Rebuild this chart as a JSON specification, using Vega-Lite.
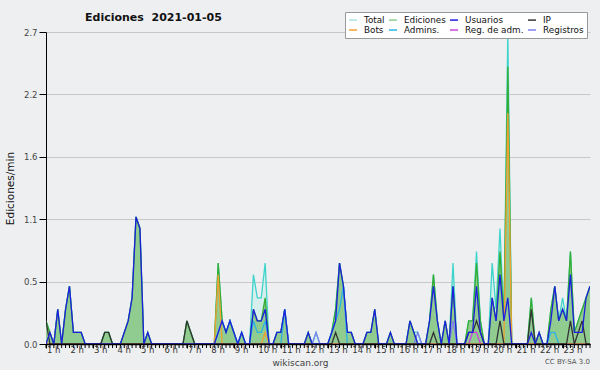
{
"$schema": "https://vega.github.io/schema/vega-lite/v6.json",
"width": 544, "height": 312,
"autosize": "none",
"padding": {"left": 46, "top": 32, "right": 10, "bottom": 26},
"background": "#eeeff1",
"config": {"view": {"stroke": null}, "font": "DejaVu Sans"},
"title": {"text": "Ediciones\u00a0\u00a02021-01-05", "anchor": "start", "frame": "group", "dx": 39, "font": "DejaVu Sans", "fontSize": 11, "fontWeight": "bold", "color": "#111111", "offset": -11},
"datasets": {"hours": [
{"i":0,"h":"1 h"},{"i":6,"h":"2 h"},{"i":12,"h":"3 h"},{"i":18,"h":"4 h"},{"i":24,"h":"5 h"},{"i":30,"h":"6 h"},
{"i":36,"h":"7 h"},{"i":42,"h":"8 h"},{"i":48,"h":"9 h"},{"i":54,"h":"10 h"},{"i":60,"h":"11 h"},{"i":66,"h":"12 h"},
{"i":72,"h":"13 h"},{"i":78,"h":"14 h"},{"i":84,"h":"15 h"},{"i":90,"h":"16 h"},{"i":96,"h":"17 h"},{"i":102,"h":"18 h"},
{"i":108,"h":"19 h"},{"i":114,"h":"20 h"},{"i":120,"h":"21 h"},{"i":126,"h":"22 h"},{"i":132,"h":"23 h"}
]},
"data": {"values": [
{"i":0,"T":0.2,"E":0.2,"U":0,"IP":0.2,"B":0,"A":0,"RA":0,"R":0},
{"i":1,"T":0.1,"E":0.1,"U":0.1,"IP":0,"B":0,"A":0,"RA":0,"R":0},
{"i":2,"T":0,"E":0,"U":0,"IP":0,"B":0,"A":0,"RA":0,"R":0},
{"i":3,"T":0.3,"E":0.3,"U":0.3,"IP":0,"B":0,"A":0,"RA":0,"R":0},
{"i":4,"T":0,"E":0,"U":0,"IP":0,"B":0,"A":0,"RA":0,"R":0},
{"i":5,"T":0.3,"E":0.3,"U":0.3,"IP":0,"B":0,"A":0,"RA":0,"R":0},
{"i":6,"T":0.5,"E":0.5,"U":0.5,"IP":0,"B":0,"A":0,"RA":0,"R":0},
{"i":7,"T":0.1,"E":0.1,"U":0.1,"IP":0,"B":0,"A":0,"RA":0,"R":0},
{"i":8,"T":0.1,"E":0.1,"U":0.1,"IP":0,"B":0,"A":0,"RA":0,"R":0},
{"i":9,"T":0.1,"E":0.1,"U":0.1,"IP":0,"B":0,"A":0,"RA":0,"R":0},
{"i":10,"T":0,"E":0,"U":0,"IP":0,"B":0,"A":0,"RA":0,"R":0},
{"i":11,"T":0,"E":0,"U":0,"IP":0,"B":0,"A":0,"RA":0,"R":0},
{"i":12,"T":0,"E":0,"U":0,"IP":0,"B":0,"A":0,"RA":0,"R":0},
{"i":13,"T":0,"E":0,"U":0,"IP":0,"B":0,"A":0,"RA":0,"R":0},
{"i":14,"T":0,"E":0,"U":0,"IP":0,"B":0,"A":0,"RA":0,"R":0},
{"i":15,"T":0.1,"E":0.1,"U":0,"IP":0.1,"B":0,"A":0,"RA":0,"R":0},
{"i":16,"T":0.1,"E":0.1,"U":0,"IP":0.1,"B":0,"A":0,"RA":0,"R":0},
{"i":17,"T":0,"E":0,"U":0,"IP":0,"B":0,"A":0,"RA":0,"R":0},
{"i":18,"T":0,"E":0,"U":0,"IP":0,"B":0,"A":0,"RA":0,"R":0},
{"i":19,"T":0,"E":0,"U":0,"IP":0,"B":0,"A":0,"RA":0,"R":0},
{"i":20,"T":0.1,"E":0.1,"U":0.1,"IP":0,"B":0,"A":0,"RA":0,"R":0},
{"i":21,"T":0.2,"E":0.2,"U":0.2,"IP":0,"B":0,"A":0,"RA":0,"R":0},
{"i":22,"T":0.4,"E":0.4,"U":0.4,"IP":0,"B":0,"A":0,"RA":0,"R":0},
{"i":23,"T":1.1,"E":1.1,"U":1.1,"IP":0,"B":0,"A":0,"RA":0,"R":0},
{"i":24,"T":1.0,"E":1.0,"U":1.0,"IP":0,"B":0,"A":0,"RA":0,"R":0},
{"i":25,"T":0,"E":0,"U":0,"IP":0,"B":0,"A":0,"RA":0,"R":0},
{"i":26,"T":0.1,"E":0.1,"U":0.1,"IP":0,"B":0,"A":0,"RA":0,"R":0},
{"i":27,"T":0,"E":0,"U":0,"IP":0,"B":0,"A":0,"RA":0,"R":0},
{"i":28,"T":0,"E":0,"U":0,"IP":0,"B":0,"A":0,"RA":0,"R":0},
{"i":29,"T":0,"E":0,"U":0,"IP":0,"B":0,"A":0,"RA":0,"R":0},
{"i":30,"T":0,"E":0,"U":0,"IP":0,"B":0,"A":0,"RA":0,"R":0},
{"i":31,"T":0,"E":0,"U":0,"IP":0,"B":0,"A":0,"RA":0,"R":0},
{"i":32,"T":0,"E":0,"U":0,"IP":0,"B":0,"A":0,"RA":0,"R":0},
{"i":33,"T":0,"E":0,"U":0,"IP":0,"B":0,"A":0,"RA":0,"R":0},
{"i":34,"T":0,"E":0,"U":0,"IP":0,"B":0,"A":0,"RA":0,"R":0},
{"i":35,"T":0,"E":0,"U":0,"IP":0,"B":0,"A":0,"RA":0,"R":0},
{"i":36,"T":0.2,"E":0.2,"U":0,"IP":0.2,"B":0,"A":0,"RA":0,"R":0},
{"i":37,"T":0.1,"E":0.1,"U":0,"IP":0.1,"B":0,"A":0,"RA":0,"R":0},
{"i":38,"T":0,"E":0,"U":0,"IP":0,"B":0,"A":0,"RA":0,"R":0},
{"i":39,"T":0,"E":0,"U":0,"IP":0,"B":0,"A":0,"RA":0,"R":0},
{"i":40,"T":0,"E":0,"U":0,"IP":0,"B":0,"A":0,"RA":0,"R":0},
{"i":41,"T":0,"E":0,"U":0,"IP":0,"B":0,"A":0,"RA":0,"R":0},
{"i":42,"T":0,"E":0,"U":0,"IP":0,"B":0,"A":0,"RA":0,"R":0},
{"i":43,"T":0,"E":0,"U":0,"IP":0,"B":0,"A":0,"RA":0,"R":0},
{"i":44,"T":0.7,"E":0.7,"U":0.1,"IP":0,"B":0.6,"A":0.1,"RA":0,"R":0},
{"i":45,"T":0.2,"E":0.2,"U":0.2,"IP":0,"B":0,"A":0.2,"RA":0,"R":0},
{"i":46,"T":0.1,"E":0.1,"U":0.1,"IP":0,"B":0,"A":0.1,"RA":0,"R":0},
{"i":47,"T":0.2,"E":0.2,"U":0.2,"IP":0,"B":0,"A":0.2,"RA":0,"R":0},
{"i":48,"T":0.1,"E":0.1,"U":0.1,"IP":0,"B":0,"A":0.1,"RA":0,"R":0},
{"i":49,"T":0,"E":0,"U":0,"IP":0,"B":0,"A":0,"RA":0,"R":0},
{"i":50,"T":0.1,"E":0.1,"U":0.1,"IP":0,"B":0,"A":0.1,"RA":0,"R":0},
{"i":51,"T":0,"E":0,"U":0,"IP":0,"B":0,"A":0,"RA":0,"R":0},
{"i":52,"T":0,"E":0,"U":0,"IP":0,"B":0,"A":0,"RA":0,"R":0},
{"i":53,"T":0.6,"E":0.3,"U":0.3,"IP":0,"B":0,"A":0.2,"RA":0,"R":0},
{"i":54,"T":0.4,"E":0.2,"U":0.2,"IP":0,"B":0,"A":0.1,"RA":0,"R":0},
{"i":55,"T":0.4,"E":0.2,"U":0.2,"IP":0,"B":0,"A":0.1,"RA":0,"R":0},
{"i":56,"T":0.7,"E":0.4,"U":0.3,"IP":0,"B":0.1,"A":0.2,"RA":0,"R":0},
{"i":57,"T":0,"E":0,"U":0,"IP":0,"B":0,"A":0,"RA":0,"R":0},
{"i":58,"T":0,"E":0,"U":0,"IP":0,"B":0,"A":0,"RA":0,"R":0},
{"i":59,"T":0.1,"E":0.1,"U":0.1,"IP":0,"B":0,"A":0,"RA":0,"R":0},
{"i":60,"T":0.1,"E":0.1,"U":0.1,"IP":0,"B":0,"A":0,"RA":0,"R":0},
{"i":61,"T":0.3,"E":0.3,"U":0.3,"IP":0,"B":0,"A":0.3,"RA":0,"R":0},
{"i":62,"T":0,"E":0,"U":0,"IP":0,"B":0,"A":0,"RA":0,"R":0},
{"i":63,"T":0,"E":0,"U":0,"IP":0,"B":0,"A":0,"RA":0,"R":0},
{"i":64,"T":0,"E":0,"U":0,"IP":0,"B":0,"A":0,"RA":0,"R":0},
{"i":65,"T":0,"E":0,"U":0,"IP":0,"B":0,"A":0,"RA":0,"R":0},
{"i":66,"T":0,"E":0,"U":0,"IP":0,"B":0,"A":0,"RA":0,"R":0},
{"i":67,"T":0.1,"E":0.1,"U":0.1,"IP":0,"B":0,"A":0,"RA":0,"R":0},
{"i":68,"T":0,"E":0,"U":0,"IP":0,"B":0,"A":0,"RA":0,"R":0},
{"i":69,"T":0.1,"E":0,"U":0,"IP":0,"B":0,"A":0,"RA":0,"R":0.1},
{"i":70,"T":0,"E":0,"U":0,"IP":0,"B":0,"A":0,"RA":0,"R":0},
{"i":71,"T":0,"E":0,"U":0,"IP":0,"B":0,"A":0,"RA":0,"R":0},
{"i":72,"T":0,"E":0,"U":0,"IP":0,"B":0,"A":0,"RA":0,"R":0},
{"i":73,"T":0.1,"E":0.1,"U":0.1,"IP":0,"B":0,"A":0.1,"RA":0,"R":0},
{"i":74,"T":0.3,"E":0.3,"U":0.2,"IP":0.1,"B":0,"A":0.2,"RA":0,"R":0},
{"i":75,"T":0.7,"E":0.7,"U":0.7,"IP":0,"B":0,"A":0.3,"RA":0,"R":0},
{"i":76,"T":0.5,"E":0.5,"U":0.5,"IP":0,"B":0,"A":0.5,"RA":0,"R":0},
{"i":77,"T":0.1,"E":0.1,"U":0.1,"IP":0,"B":0,"A":0,"RA":0,"R":0},
{"i":78,"T":0.1,"E":0.1,"U":0.1,"IP":0,"B":0,"A":0,"RA":0,"R":0},
{"i":79,"T":0,"E":0,"U":0,"IP":0,"B":0,"A":0,"RA":0,"R":0},
{"i":80,"T":0,"E":0,"U":0,"IP":0,"B":0,"A":0,"RA":0,"R":0},
{"i":81,"T":0,"E":0,"U":0,"IP":0,"B":0,"A":0,"RA":0,"R":0},
{"i":82,"T":0.1,"E":0.1,"U":0.1,"IP":0,"B":0,"A":0,"RA":0,"R":0},
{"i":83,"T":0.1,"E":0.1,"U":0.1,"IP":0,"B":0,"A":0,"RA":0,"R":0},
{"i":84,"T":0.3,"E":0.3,"U":0.3,"IP":0,"B":0,"A":0,"RA":0,"R":0},
{"i":85,"T":0,"E":0,"U":0,"IP":0,"B":0,"A":0,"RA":0,"R":0},
{"i":86,"T":0,"E":0,"U":0,"IP":0,"B":0,"A":0,"RA":0,"R":0},
{"i":87,"T":0,"E":0,"U":0,"IP":0,"B":0,"A":0,"RA":0,"R":0},
{"i":88,"T":0.1,"E":0.1,"U":0.1,"IP":0,"B":0,"A":0,"RA":0,"R":0},
{"i":89,"T":0,"E":0,"U":0,"IP":0,"B":0,"A":0,"RA":0,"R":0},
{"i":90,"T":0,"E":0,"U":0,"IP":0,"B":0,"A":0,"RA":0,"R":0},
{"i":91,"T":0,"E":0,"U":0,"IP":0,"B":0,"A":0,"RA":0,"R":0},
{"i":92,"T":0,"E":0,"U":0,"IP":0,"B":0,"A":0,"RA":0,"R":0},
{"i":93,"T":0.2,"E":0.2,"U":0.2,"IP":0,"B":0,"A":0,"RA":0,"R":0},
{"i":94,"T":0.1,"E":0.1,"U":0.1,"IP":0,"B":0,"A":0,"RA":0,"R":0},
{"i":95,"T":0.1,"E":0,"U":0,"IP":0,"B":0,"A":0,"RA":0,"R":0.1},
{"i":96,"T":0,"E":0,"U":0,"IP":0,"B":0,"A":0,"RA":0,"R":0},
{"i":97,"T":0,"E":0,"U":0,"IP":0,"B":0,"A":0,"RA":0,"R":0},
{"i":98,"T":0.2,"E":0.2,"U":0.2,"IP":0,"B":0,"A":0,"RA":0,"R":0},
{"i":99,"T":0.6,"E":0.6,"U":0.5,"IP":0.1,"B":0,"A":0,"RA":0,"R":0},
{"i":100,"T":0.2,"E":0.2,"U":0.2,"IP":0,"B":0,"A":0,"RA":0,"R":0},
{"i":101,"T":0,"E":0,"U":0,"IP":0,"B":0,"A":0,"RA":0,"R":0},
{"i":102,"T":0.2,"E":0.2,"U":0.2,"IP":0,"B":0,"A":0,"RA":0,"R":0},
{"i":103,"T":0,"E":0,"U":0,"IP":0,"B":0,"A":0,"RA":0,"R":0},
{"i":104,"T":0.7,"E":0.5,"U":0.5,"IP":0,"B":0,"A":0,"RA":0,"R":0.2},
{"i":105,"T":0,"E":0,"U":0,"IP":0,"B":0,"A":0,"RA":0,"R":0},
{"i":106,"T":0,"E":0,"U":0,"IP":0,"B":0,"A":0,"RA":0,"R":0},
{"i":107,"T":0,"E":0,"U":0,"IP":0,"B":0,"A":0,"RA":0,"R":0},
{"i":108,"T":0.2,"E":0.2,"U":0.1,"IP":0.1,"B":0,"A":0,"RA":0,"R":0},
{"i":109,"T":0.2,"E":0.2,"U":0.1,"IP":0.1,"B":0,"A":0,"RA":0.1,"R":0},
{"i":110,"T":0.8,"E":0.7,"U":0.5,"IP":0.2,"B":0,"A":0,"RA":0.1,"R":0},
{"i":111,"T":0.2,"E":0.2,"U":0.1,"IP":0.1,"B":0,"A":0,"RA":0,"R":0},
{"i":112,"T":0,"E":0,"U":0,"IP":0,"B":0,"A":0,"RA":0,"R":0},
{"i":113,"T":0,"E":0,"U":0,"IP":0,"B":0,"A":0,"RA":0,"R":0},
{"i":114,"T":0.7,"E":0.4,"U":0.4,"IP":0,"B":0,"A":0,"RA":0,"R":0},
{"i":115,"T":0.3,"E":0.2,"U":0.2,"IP":0,"B":0,"A":0,"RA":0,"R":0},
{"i":116,"T":1.0,"E":0.8,"U":0.6,"IP":0.2,"B":0,"A":0,"RA":0,"R":0},
{"i":117,"T":0.2,"E":0.2,"U":0.2,"IP":0,"B":0,"A":0,"RA":0,"R":0},
{"i":118,"T":2.7,"E":2.4,"U":0.4,"IP":0,"B":2.0,"A":0,"RA":0,"R":0},
{"i":119,"T":0,"E":0,"U":0,"IP":0,"B":0,"A":0,"RA":0,"R":0},
{"i":120,"T":0,"E":0,"U":0,"IP":0,"B":0,"A":0,"RA":0,"R":0},
{"i":121,"T":0,"E":0,"U":0,"IP":0,"B":0,"A":0,"RA":0,"R":0},
{"i":122,"T":0,"E":0,"U":0,"IP":0,"B":0,"A":0,"RA":0,"R":0},
{"i":123,"T":0,"E":0,"U":0,"IP":0,"B":0,"A":0,"RA":0,"R":0},
{"i":124,"T":0.4,"E":0.4,"U":0.1,"IP":0.3,"B":0,"A":0,"RA":0,"R":0},
{"i":125,"T":0,"E":0,"U":0,"IP":0,"B":0,"A":0,"RA":0,"R":0},
{"i":126,"T":0.1,"E":0.1,"U":0.1,"IP":0,"B":0,"A":0,"RA":0,"R":0},
{"i":127,"T":0,"E":0,"U":0,"IP":0,"B":0,"A":0,"RA":0,"R":0},
{"i":128,"T":0,"E":0,"U":0,"IP":0,"B":0,"A":0,"RA":0,"R":0},
{"i":129,"T":0.3,"E":0.3,"U":0.2,"IP":0,"B":0,"A":0.1,"RA":0,"R":0},
{"i":130,"T":0.5,"E":0.5,"U":0.5,"IP":0,"B":0,"A":0.1,"RA":0,"R":0},
{"i":131,"T":0.2,"E":0.2,"U":0.2,"IP":0,"B":0,"A":0,"RA":0,"R":0},
{"i":132,"T":0.4,"E":0.3,"U":0.3,"IP":0,"B":0,"A":0,"RA":0,"R":0},
{"i":133,"T":0.2,"E":0.2,"U":0.2,"IP":0,"B":0,"A":0,"RA":0,"R":0},
{"i":134,"T":0.8,"E":0.8,"U":0.6,"IP":0.2,"B":0,"A":0,"RA":0,"R":0},
{"i":135,"T":0.1,"E":0.1,"U":0.1,"IP":0,"B":0,"A":0,"RA":0,"R":0},
{"i":136,"T":0.2,"E":0.2,"U":0.1,"IP":0.1,"B":0,"A":0,"RA":0,"R":0},
{"i":137,"T":0.3,"E":0.3,"U":0.1,"IP":0.2,"B":0,"A":0,"RA":0,"R":0},
{"i":138,"T":0.4,"E":0.4,"U":0.4,"IP":0,"B":0,"A":0,"RA":0,"R":0},
{"i":139,"T":0.5,"E":0.5,"U":0.5,"IP":0,"B":0,"A":0,"RA":0,"R":0}
]},
"layer": [
{
 "mark": {"type": "area", "color": "#c6ece9", "opacity": 0.6, "clip": true},
 "encoding": {
  "x": {"field": "i", "type": "quantitative", "scale": {"domain": [0, 139], "nice": false, "zero": false},
   "axis": {"values": [0,6,12,18,24,30,36,42,48,54,60,66,72,78,84,90,96,102,108,114,120,126,132],
    "labels": false, "tickSize": 4, "tickColor": "#000000", "domainColor": "#000000", "domainWidth": 1.5, "grid": false,
    "title": "wikiscan.org", "titleFontSize": 9, "titleFontWeight": "normal", "titleColor": "#444444", "titleFont": "DejaVu Sans",
    "titlePadding": 10, "titleX": 254, "zindex": 1}},
  "y": {"field": "T", "type": "quantitative", "scale": {"domain": [0, 2.7], "nice": false},
   "axis": {"values": [0,0.135,0.27,0.405,0.54,0.675,0.81,0.945,1.08,1.215,1.35,1.485,1.62,1.755,1.89,2.025,2.16,2.295,2.43,2.565,2.7],
    "labelExpr": "abs(datum.value/0.54 - round(datum.value/0.54)) < 0.01 ? format(datum.value, '.1f') : ''",
    "labelFontSize": 8.5, "labelColor": "#444444", "labelFont": "DejaVu Sans", "labelPadding": 2,
    "tickColor": "#000000",
    "tickSize": {"condition": {"test": "abs(datum.value/0.54 - round(datum.value/0.54)) < 0.01", "value": 7}, "value": 3},
    "grid": true, "gridColor": "#c8c8c8",
    "gridOpacity": {"condition": {"test": "abs(datum.value/0.54 - round(datum.value/0.54)) < 0.01", "value": 1}, "value": 0},
    "domainColor": "#000000",
    "title": "Ediciones/min", "titleFontSize": 10.5, "titleFontWeight": "normal", "titleColor": "#111111", "titleFont": "DejaVu Sans", "titlePadding": 8}}
 }
},
{
 "mark": {"type": "rule", "color": "#000000", "strokeWidth": 1, "clip": false},
 "encoding": {"x": {"field": "i", "type": "quantitative"}, "y": {"datum": 0, "type": "quantitative"}, "y2": {"datum": -0.035}}
},
{
 "data": {"name": "hours"},
 "mark": {"type": "text", "align": "left", "baseline": "top", "dx": 1, "fontSize": 8.5, "color": "#333333", "font": "DejaVu Sans", "clip": false},
 "encoding": {"x": {"field": "i", "type": "quantitative"}, "y": {"datum": -0.017, "type": "quantitative"}, "text": {"field": "h"}}
},
{
 "mark": {"type": "line", "color": "#3fd4cb", "strokeWidth": 1.3, "clip": true},
 "encoding": {"x": {"field": "i", "type": "quantitative"}, "y": {"field": "T", "type": "quantitative"}}
},
{
 "mark": {"type": "area", "color": "#90cb90", "opacity": 1, "clip": true},
 "encoding": {"x": {"field": "i", "type": "quantitative"}, "y": {"field": "E", "type": "quantitative"}}
},
{
 "mark": {"type": "line", "color": "#34ad34", "strokeWidth": 1.3, "clip": true},
 "encoding": {"x": {"field": "i", "type": "quantitative"}, "y": {"field": "E", "type": "quantitative"}}
},
{
 "transform": [{"fold": ["A", "R", "RA", "B", "IP", "U"], "as": ["key", "val"]}],
 "mark": {"type": "line", "strokeWidth": 1.3, "clip": true},
 "encoding": {
  "x": {"field": "i", "type": "quantitative"},
  "y": {"field": "val", "type": "quantitative"},
  "color": {"field": "key", "type": "nominal",
   "scale": {"domain": ["T", "E", "U", "IP", "B", "A", "RA", "R"],
             "range": ["#a8e6e0", "#8ed08e", "#1e1ee0", "#333333", "#f0a030", "#2cb4e4", "#cc44dd", "#8080ee"]},
   "legend": {"orient": "none", "legendX": 299, "legendY": -20, "columns": 4, "direction": "horizontal", "title": null,
    "symbolType": "stroke", "symbolSize": 64, "symbolStrokeWidth": 1.5,
    "labelFontSize": 8.8, "labelFont": "DejaVu Sans", "labelColor": "#111111",
    "fillColor": "#ffffff", "strokeColor": "#999999", "padding": 3, "rowPadding": -1, "columnPadding": 1, "labelOffset": 6,
    "labelExpr": "{'T':'Total','E':'Ediciones','U':'Usuarios','IP':'IP','B':'Bots','A':'Admins.','RA':'Reg. de adm.','R':'Registros'}[datum.label]"}}
 }
},
{
 "data": {"values": [{}]},
 "mark": {"type": "text", "text": "CC BY-SA 3.0", "align": "right", "baseline": "middle", "fontSize": 7, "color": "#555555", "font": "DejaVu Sans", "clip": false},
 "encoding": {"x": {"datum": 139, "type": "quantitative"}, "y": {"datum": -0.152, "type": "quantitative"}}
}
]
}
